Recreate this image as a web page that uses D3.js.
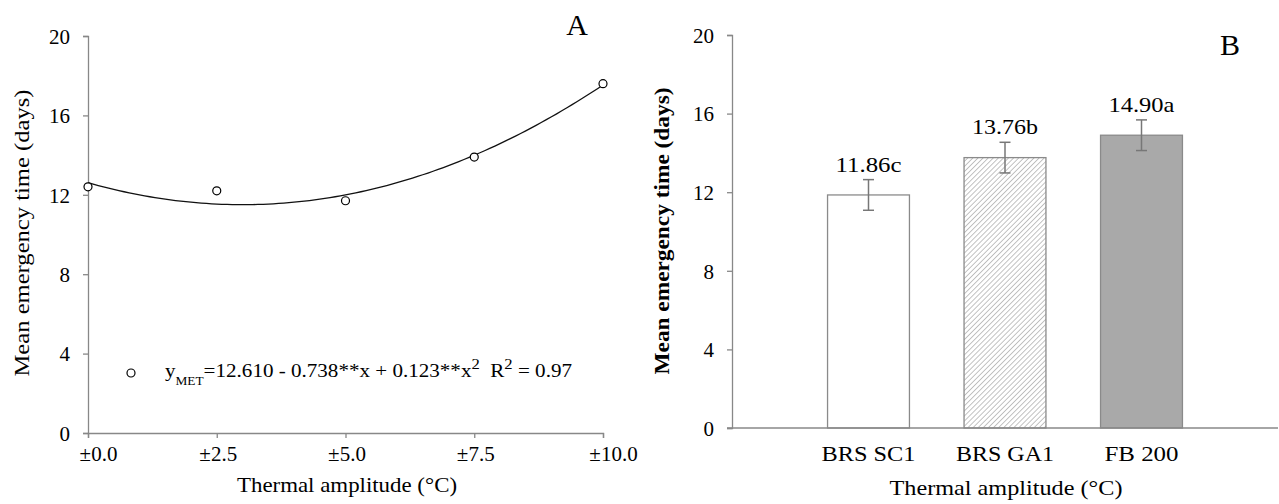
<!DOCTYPE html>
<html>
<head>
<meta charset="utf-8">
<script src="https://cdn.jsdelivr.net/npm/d3@7"></script>
<style>
  body { margin: 0; background: #fff; }
  svg text { font-family: "Liberation Serif", "Times New Roman", "DejaVu Serif", serif; fill: #000; }
  .axis path, .axis line { stroke: #888; stroke-width: 1.3; }
  .axis text { font-size: 21px; }
</style>
</head>
<body>
<svg id="chart" width="1279" height="504"></svg>
<script>
// panel A: mean emergence time vs thermal amplitude
const amplitudes = [0, 2.5, 5, 7.5, 10];
const emergenceA = [12.4, 12.2, 11.7, 13.9, 17.6];
const fitCoef = [12.610, -0.738, 0.123];
const xTicksA = ['±0.0', '±2.5', '±5.0', '±7.5', '±10.0'];

// panel B: cultivars
const cultivars = ['BRS SC1', 'BRS GA1', 'FB 200'];
const emergenceB = [11.86, 13.76, 14.90];
const errorsB = [0.78, 0.78, 0.78];
const lettersB = ['c', 'b', 'a'];

const yTicks = [0, 4, 8, 12, 16, 20];

const svg = d3.select('#chart');

svg.append('defs').append('pattern')
  .attr('id', 'hatch')
  .attr('patternUnits', 'userSpaceOnUse')
  .attr('width', 3.6).attr('height', 3.6)
  .attr('patternTransform', 'rotate(45)')
  .append('line')
  .attr('x1', 0).attr('y1', 0).attr('x2', 0).attr('y2', 3.6)
  .attr('stroke', '#858585').attr('stroke-width', 1);

// ---------- panel A ----------
const xA = d3.scaleLinear().domain([0, 10]).range([88, 603]);
const yA = d3.scaleLinear().domain([0, 20]).range([433, 36]);

svg.append('g').attr('class', 'axis')
  .attr('transform', 'translate(88,0)')
  .call(d3.axisLeft(yA).tickValues(yTicks).tickSize(5).tickPadding(13))
  .call(g => g.attr('font-family', null).attr('font-size', null))
  .call(g => g.selectAll('text').attr('dy', '0.35em'));

svg.append('g').attr('class', 'axis')
  .attr('transform', 'translate(0,433)')
  .call(d3.axisBottom(xA).tickValues(amplitudes).tickSize(5).tickPadding(8)
    .tickFormat((d, i) => xTicksA[i]))
  .call(g => g.attr('font-family', null).attr('font-size', null))
  .call(g => g.selectAll('text').attr('dx', (d, i) => (i === 0 || i === 4) ? 10 : 1));

const fit = x => fitCoef[0] + fitCoef[1] * x + fitCoef[2] * x * x;
svg.append('path')
  .datum(d3.range(0, 10.01, 0.1))
  .attr('fill', 'none')
  .attr('stroke', '#111')
  .attr('stroke-width', 1.3)
  .attr('d', d3.line().x(d => xA(d)).y(d => yA(fit(d))));

svg.append('g').selectAll('circle')
  .data(amplitudes)
  .join('circle')
  .attr('cx', d => xA(d))
  .attr('cy', (d, i) => yA(emergenceA[i]))
  .attr('r', 4)
  .attr('fill', '#fff')
  .attr('stroke', '#000')
  .attr('stroke-width', 1.2);

// legend
svg.append('circle')
  .attr('cx', 131).attr('cy', 373).attr('r', 4)
  .attr('fill', '#fff').attr('stroke', '#000').attr('stroke-width', 1.2);

const leg = svg.append('text').attr('x', 165).attr('y', 377)
  .attr('font-size', 19)
  .attr('textLength', 407).attr('lengthAdjust', 'spacingAndGlyphs');
leg.append('tspan').text('y');
leg.append('tspan').attr('font-size', 12).attr('dy', 8).text('MET');
leg.append('tspan').attr('dy', -8).text('=12.610 - 0.738**x + 0.123**x');
leg.append('tspan').attr('font-size', 15).attr('dy', -8).text('2');
leg.append('tspan').attr('dy', 8).text('\u00a0\u00a0R');
leg.append('tspan').attr('font-size', 15).attr('dy', -8).text('2');
leg.append('tspan').attr('dy', 8).text(' = 0.97');

svg.append('text')
  .attr('x', 577).attr('y', 35)
  .attr('text-anchor', 'middle')
  .attr('font-size', 30)
  .text('A');

svg.append('text')
  .attr('transform', 'translate(29,233) rotate(-90)')
  .attr('text-anchor', 'middle')
  .attr('font-size', 22)
  .attr('textLength', 287).attr('lengthAdjust', 'spacingAndGlyphs')
  .text('Mean emergency time (days)');

svg.append('text')
  .attr('x', 347).attr('y', 492)
  .attr('text-anchor', 'middle')
  .attr('font-size', 22)
  .attr('textLength', 220).attr('lengthAdjust', 'spacingAndGlyphs')
  .text('Thermal amplitude (°C)');

// ---------- panel B ----------
const xB = d3.scaleBand().domain(cultivars).range([732, 1278]).paddingInner(0.4).paddingOuter(0.7);
const yB = d3.scaleLinear().domain([0, 20]).range([428, 35]);

svg.append('g').attr('class', 'axis')
  .attr('transform', 'translate(732,0)')
  .call(d3.axisLeft(yB).tickValues(yTicks).tickSize(5).tickPadding(13))
  .call(g => g.attr('font-family', null).attr('font-size', null))
  .call(g => g.selectAll('text').attr('dy', '0.35em'));

const fills = ['#fff', 'url(#hatch)', '#a9a9a9'];
svg.append('g').selectAll('rect')
  .data(cultivars)
  .join('rect')
  .attr('x', d => xB(d))
  .attr('width', xB.bandwidth())
  .attr('y', (d, i) => yB(emergenceB[i]))
  .attr('height', (d, i) => yB(0) - yB(emergenceB[i]))
  .attr('fill', (d, i) => fills[i])
  .attr('stroke', '#8a8a8a')
  .attr('stroke-width', 1.3);

// x axis line for panel B (no ticks)
svg.append('g').attr('class', 'axis')
  .append('line')
  .attr('x1', 727).attr('x2', 1278)
  .attr('y1', yB(0)).attr('y2', yB(0));

const err = svg.append('g').attr('stroke', '#777').attr('stroke-width', 1.5);
cultivars.forEach((c, i) => {
  const cx = xB(c) + xB.bandwidth() / 2;
  const top = yB(emergenceB[i] + errorsB[i]);
  const bot = yB(emergenceB[i] - errorsB[i]);
  err.append('line').attr('x1', cx).attr('x2', cx).attr('y1', top).attr('y2', bot);
  err.append('line').attr('x1', cx - 5.5).attr('x2', cx + 5.5).attr('y1', top).attr('y2', top);
  err.append('line').attr('x1', cx - 5.5).attr('x2', cx + 5.5).attr('y1', bot).attr('y2', bot);
});

svg.append('g').selectAll('text')
  .data(cultivars)
  .join('text')
  .attr('x', d => xB(d) + xB.bandwidth() / 2)
  .attr('y', (d, i) => yB(emergenceB[i] + errorsB[i]) - 8)
  .attr('text-anchor', 'middle')
  .attr('font-size', 22)
  .attr('textLength', 66).attr('lengthAdjust', 'spacingAndGlyphs')
  .text((d, i) => emergenceB[i].toFixed(2) + lettersB[i]);

const catWidths = [94, 98, 74];
svg.append('g').selectAll('text')
  .data(cultivars)
  .join('text')
  .attr('x', d => xB(d) + xB.bandwidth() / 2)
  .attr('y', 461)
  .attr('text-anchor', 'middle')
  .attr('font-size', 21)
  .attr('textLength', (d, i) => catWidths[i]).attr('lengthAdjust', 'spacingAndGlyphs')
  .text(d => d);

svg.append('text')
  .attr('x', 1230).attr('y', 55)
  .attr('text-anchor', 'middle')
  .attr('font-size', 30)
  .text('B');

svg.append('text')
  .attr('transform', 'translate(669,231) rotate(-90)')
  .attr('text-anchor', 'middle')
  .attr('font-size', 21)
  .attr('font-weight', 'bold')
  .attr('textLength', 287).attr('lengthAdjust', 'spacingAndGlyphs')
  .text('Mean emergency time (days)');

svg.append('text')
  .attr('x', 1006).attr('y', 495)
  .attr('text-anchor', 'middle')
  .attr('font-size', 22)
  .attr('textLength', 233).attr('lengthAdjust', 'spacingAndGlyphs')
  .text('Thermal amplitude (°C)');
</script>
</body>
</html>
